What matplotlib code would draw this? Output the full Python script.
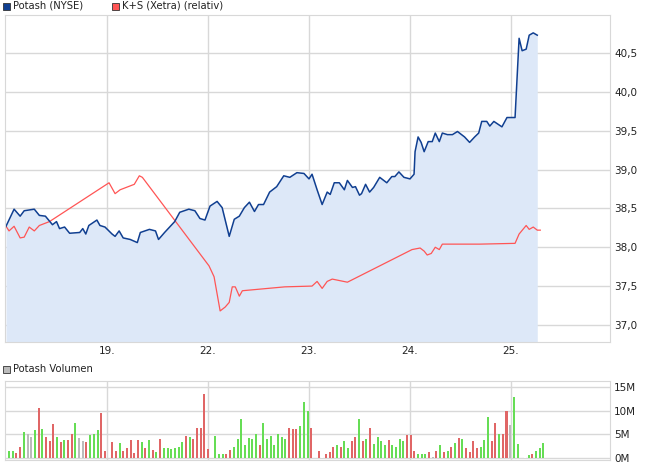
import numpy as np
import matplotlib
matplotlib.use("Agg")
import matplotlib.pyplot as plt

plt.rcParams['font.family'] = ['DejaVu Sans']

blue_t = [0,.08,.14,.18,.28,.33,.39,.46,.50,.53,.58,.63,.73,.76,.79,.82,.90,.93,.98,1.05,1.08,1.12,1.16,1.23,1.30,1.33,1.42,1.48,1.51,1.57,1.67,1.72,1.81,1.87,1.92,1.97,2.02,2.09,2.14,2.21,2.26,2.31,2.36,2.41,2.46,2.50,2.55,2.61,2.68,2.75,2.81,2.88,2.95,3.00,3.03,3.08,
          3.13,3.18,3.21,3.25,3.30,3.35,3.38,3.43,3.46,3.50,3.52,3.56,3.60,3.64,3.70,3.77,3.82,3.85,3.89,3.94,4.00,4.04,4.05,4.08,4.11,4.14,4.18,4.22,4.25,4.29,4.32,4.37,4.42,4.47,4.51,4.54,4.59,4.64,4.68,4.71,4.76,4.79,4.83,4.91,4.96,5.04,5.06,5.08,5.11,5.15,5.18,5.22,5.26]
blue_v = [38.27,38.49,38.40,38.47,38.49,38.41,38.40,38.29,38.33,38.24,38.26,38.18,38.19,38.24,38.17,38.28,38.35,38.28,38.26,38.17,38.14,38.21,38.12,38.10,38.06,38.19,38.23,38.21,38.10,38.19,38.33,38.45,38.49,38.47,38.37,38.35,38.53,38.59,38.51,38.14,38.36,38.40,38.51,38.58,38.46,38.55,38.55,38.71,38.78,38.92,38.90,38.96,38.95,38.88,38.94,38.74,
          38.55,38.71,38.68,38.83,38.83,38.74,38.86,38.77,38.78,38.67,38.69,38.81,38.71,38.77,38.90,38.83,38.91,38.91,38.97,38.90,38.88,38.94,39.23,39.42,39.35,39.23,39.36,39.36,39.47,39.36,39.47,39.45,39.45,39.49,39.45,39.42,39.35,39.42,39.47,39.62,39.62,39.56,39.62,39.55,39.67,39.67,40.18,40.69,40.53,40.55,40.73,40.76,40.73]

red_t = [0,.03,.08,.14,.18,.23,.28,.33,.43,1.02,1.08,1.13,1.27,1.32,1.35,2.01,2.06,2.12,2.17,2.21,2.24,2.27,2.31,2.34,2.76,3.03,3.08,3.13,3.18,3.23,3.38,
         4.02,4.10,4.14,4.17,4.21,4.25,4.29,4.32,4.69,5.04,5.08,5.15,5.18,5.22,5.26,5.29]
red_v = [38.27,38.21,38.27,38.12,38.13,38.26,38.21,38.28,38.33,38.83,38.69,38.74,38.81,38.92,38.90,37.76,37.62,37.18,37.23,37.29,37.49,37.49,37.37,37.44,37.49,37.50,37.56,37.47,37.56,37.59,37.55,
         37.97,37.99,37.95,37.90,37.92,38.00,37.97,38.04,38.04,38.05,38.17,38.28,38.23,38.26,38.22,38.22]

# volumes in millions (nan = gap), colour codes g/r/n
vol = [1.9,1.6,1.4,1.0,2.3,5.5,5.1,4.5,5.9,10.5,6.1,4.5,3.6,7.2,4.5,3.4,3.8,3.8,5.1,7.4,4.3,3.6,3.4,4.9,5.1,5.9,9.5,1.6,np.nan,
       3.4,1.4,3.2,1.4,2.2,3.8,1.1,3.8,3.4,2.2,3.8,1.8,1.3,4.0,2.2,2.2,2.0,2.2,2.4,3.4,4.7,4.5,4.0,6.4,6.4,13.5,2.0,np.nan,
       4.7,0.9,0.9,0.9,1.8,2.4,4.0,8.2,2.8,4.3,4.0,5.1,2.7,7.4,4.0,4.7,2.7,5.1,4.5,4.0,6.4,6.1,6.1,6.8,11.9,9.9,6.4,np.nan,
       1.6,0.7,0.9,1.2,2.4,2.8,2.4,3.6,2.2,3.6,4.5,8.2,3.6,4.0,6.4,3.0,4.5,3.6,2.7,3.8,2.7,2.4,4.0,3.6,4.9,4.9,1.6,
       0.9,0.9,0.9,1.2,0.2,1.6,2.7,1.2,1.6,2.4,3.2,4.3,4.0,2.2,1.2,3.6,2.2,2.4,3.8,8.7,3.6,7.4,5.1,5.1,9.9,7.0,13.0,3.0,np.nan,
       0.9,0.7,0.9,1.6,2.2,3.2]
vcol = "gggrrgnngrgrrrgrgrrgnnrgggrrx" \
       "rrgrrrrrgrgrgrggggggrgrrrrrx" \
       "gggrrgggggggrgggggggrrrgggrgrx" \
       "rrrgrggrrgrgrggggrggggrrr" \
       "gggrnrgrgrgrgrrrrgggrrgrrnggnx" \
       "grgggr"
vol_xmin, vol_xmax = -0.006, 5.32
xticks = [1, 2, 3, 4, 5]
xlabels = ["19.", "22.", "23.", "24.", "25."]
yticks = [37.0, 37.5, 38.0, 38.5, 39.0, 39.5, 40.0, 40.5]
vticks = [0, 5, 10, 15]

W, H = 654, 469
fig = plt.figure(figsize=(W/100, H/100), dpi=100)
ax = fig.add_axes([5/W, 1-342/H, 605/W, 327/H])
av = fig.add_axes([5/W, 1-460/H, 605/W, 79/H])

grid_c = '#d8d8d8'
ax.fill_between(blue_t, blue_v, 36.0, color='#dde8f8', lw=0)
ax.plot(red_t, red_v, color='#ff5555', lw=0.9)
ax.plot(blue_t, blue_v, color='#103f91', lw=1.1)
ax.set_xlim(-0.01, 5.98)
ax.set_ylim(36.78, 40.99)
ax.set_xticks(xticks)
ax.set_xticklabels(xlabels)
ax.set_yticks(yticks)
ax.set_yticklabels([f"{v:.1f}".replace('.', ',') for v in yticks])
for a in (ax, av):
    a.yaxis.tick_right()
    a.grid(True, color=grid_c, lw=1)
    a.set_axisbelow(True)
    a.tick_params(length=0, labelsize=7.5, colors='#222222', pad=3)
    for s in a.spines.values():
        s.set_color(grid_c)

cmap = {'g': '#66dd55', 'r': '#e06666', 'n': '#bbbbbb', 'x': '#ffffff'}
n = len(vol)
vx = np.linspace(vol_xmin, vol_xmax, n)
vv = np.nan_to_num(np.array(vol, dtype=float))
av.bar(vx, vv, width=0.02, color=[cmap[c] for c in vcol[:n]], lw=0)
av.set_xlim(-0.01, 5.98)
av.set_ylim(-0.4, 16.3)
av.set_xticks(xticks)
av.set_xticklabels([])
av.set_yticks(vticks)
av.set_yticklabels([f"{v}M" for v in vticks])

def legend_box(x, y, col, txt):
    fig.patches.append(plt.Rectangle((x/W, 1-(y+4)/H), 7/W, 7/H, transform=fig.transFigure,
                                     facecolor=col, edgecolor='#333333', lw=0.6))
    fig.text((x+10)/W, 1-y/H, txt, fontsize=7.2, va='center', color='#222222')

legend_box(3, 6, '#103f91', "Potash (NYSE)")
legend_box(112, 6, '#ff5555', "K+S (Xetra) (relativ)")
legend_box(3, 369, '#bbbbbb', "Potash Volumen")

fig.savefig("out.png", dpi=100)
